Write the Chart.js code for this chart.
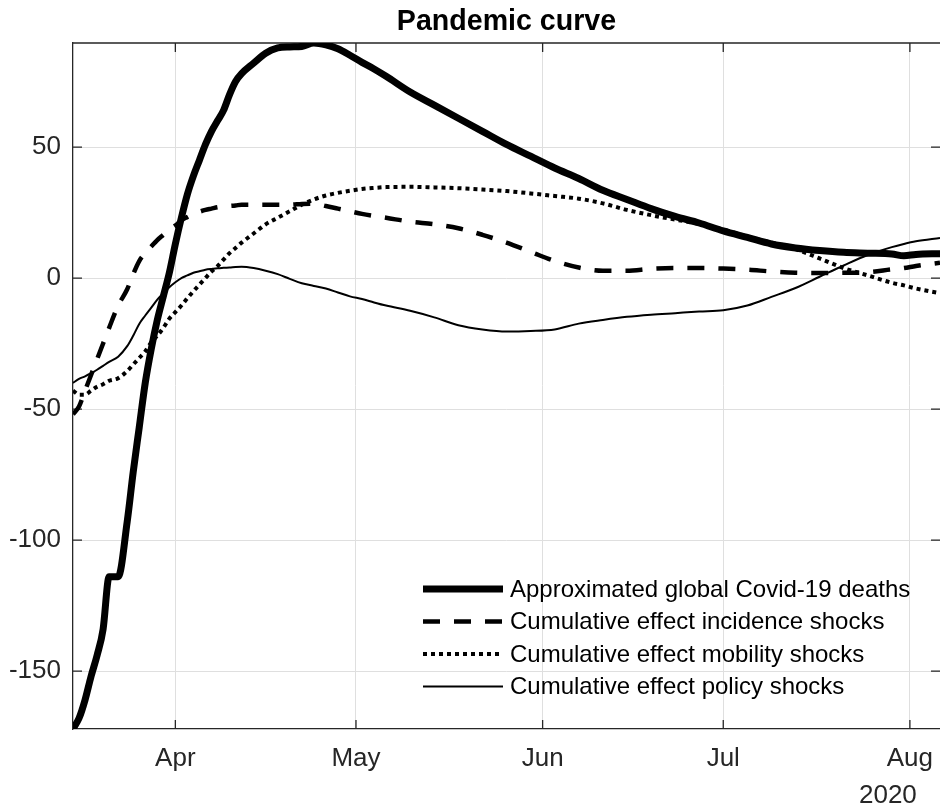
<!DOCTYPE html>
<html>
<head>
<meta charset="utf-8">
<title>Pandemic curve</title>
<script src="https://cdn.jsdelivr.net/npm/chart.js@4.4.0/dist/chart.umd.min.js"></script>
<style>
  html, body { margin: 0; padding: 0; background: #fff; }
  #wrap { width: 940px; height: 810px; position: relative; }
</style>
</head>
<body>
<div id="wrap"><canvas id="pandemicChart"></canvas></div>
<script>
// x = days since 15 March 2020
const days = [0, 1, 2, 3, 4, 5, 6, 7.5, 9, 10, 11, 12, 13, 14, 15, 16, 17, 18, 19, 20,
  21, 22, 23, 24, 25, 26, 27, 28, 30, 32, 34, 36, 38, 40, 42, 44, 46, 48, 50, 52,
  56, 60, 64, 68, 72, 76, 80, 84, 88, 92, 96, 100, 104, 108, 112, 116, 120, 124,
  128, 132, 136, 138, 140, 144];

const deaths = [-172, -168, -161, -152, -144, -134, -114, -114, -93, -74, -57, -40, -27, -16, -7, 2, 13, 23, 32, 39,
  45, 51, 56, 60, 64, 70, 75, 78, 82, 85.8, 87.8, 88.2, 88.4, 89.7, 89, 87.5, 85, 82.3, 79.8, 77,
  71, 66, 61, 56, 51, 46.5, 42, 38, 33.5, 30, 26.5, 23.5, 21, 18, 15.5, 13, 11.5, 10.5,
  9.8, 9.5, 9.2, 8.5, 9, 9.3];

const incidence = [-52, -49, -43, -37, -31, -25, -19, -10.5, -4.3, 1.5, 6.5, 9.5, 12, 14.5, 16.5, 18.5, 20, 22, 23.3, 24.5,
  25.3, 26, 26.5, 27, 27.3, 27.5, 27.7, 28, 28, 28, 28, 28, 28.3, 28.4, 27.5, 26.5, 25.5, 24.5, 23.7, 23,
  21.5, 20.5, 19, 16.5, 13.5, 10, 6.5, 4, 2.8, 2.8, 3.5, 3.8, 3.8, 3.6, 3.2, 2.5, 2, 1.9,
  2, 2.2, 3.3, 3.8, 4.6, 5.8];

const mobility = [-43, -44.5, -44.5, -43, -41.5, -40.5, -39.2, -38.2, -35.5, -33, -30.5, -28, -24.5, -22, -19, -15.5, -13, -10.5, -7.7, -5,
  -2.5, 0, 2.5, 4.5, 7, 9.5, 11.5, 13.5, 17, 20.5, 23, 25.5, 28, 30, 31.5, 32.5, 33.3, 34, 34.4, 34.7,
  34.8, 34.6, 34.3, 33.8, 33.2, 32.3, 31.3, 30.3, 28.5, 26, 24, 22.3, 20.7, 18.5, 15.8, 13.5, 11, 7.5,
  3.8, 1, -1.8, -2.8, -4, -5.8];

const policy = [-40, -38.5, -37.5, -36.3, -35, -33.5, -32, -30, -26, -22, -17.5, -14.3, -11.3, -8.2, -5.8, -3.5, -1.6, 0, 1, 2,
  2.6, 3.2, 3.5, 3.7, 3.9, 4, 4.2, 4.3, 3.8, 2.8, 1.5, -0.3, -2, -3, -4, -5.5, -7, -8, -9.3, -10.5,
  -12.5, -15, -18, -19.6, -20.4, -20.2, -19.6, -17.4, -16, -14.8, -14, -13.4, -12.8, -12.3, -10.5, -7.2, -3.8, 0.5,
  4.8, 8.8, 11.8, 13, 14, 15.3];

const seriesNames = [
  "Approximated global Covid-19 deaths",
  "Cumulative effect incidence shocks",
  "Cumulative effect mobility shocks",
  "Cumulative effect policy shocks",
];

// first day of each month, in days since 15 March
const monthTicks = [17, 47, 78, 108, 139];
const monthLabels = ["Apr", "May", "Jun", "Jul", "Aug"];
const yearLabel = "2020";
const yTicks = [-150, -100, -50, 0, 50];
const chartTitle = "Pandemic curve";

const FONT = '"Liberation Sans", Arial, Helvetica, sans-serif';
const AXIS_COLOR = "#262626";

function toPoints(values) {
  return days.map((d, i) => ({ x: d, y: values[i] }));
}

// tick marks inside the box, top border, title, legend and year label
const matlabLook = {
  id: "matlabLook",
  beforeDatasetsDraw(chart) {
    const ctx = chart.ctx;
    const a = chart.chartArea;
    const xs = chart.scales.x;
    const ys = chart.scales.y;
    const len = 9;
    ctx.save();
    ctx.strokeStyle = AXIS_COLOR;
    ctx.lineWidth = 1.3;
    ctx.beginPath();
    ctx.moveTo(a.left, a.top);
    ctx.lineTo(a.right, a.top);
    monthTicks.forEach((v) => {
      const px = xs.getPixelForValue(v);
      ctx.moveTo(px, a.bottom);
      ctx.lineTo(px, a.bottom - len);
      ctx.moveTo(px, a.top);
      ctx.lineTo(px, a.top + len);
    });
    yTicks.forEach((v) => {
      const py = ys.getPixelForValue(v);
      ctx.moveTo(a.left, py);
      ctx.lineTo(a.left + len, py);
      ctx.moveTo(a.right, py);
      ctx.lineTo(a.right - len, py);
    });
    ctx.stroke();
    ctx.restore();
  },
  afterDraw(chart) {
    const ctx = chart.ctx;
    const a = chart.chartArea;
    const xs = chart.scales.x;
    ctx.save();
    // title, centred over the axes
    ctx.font = "bold 28.6px " + FONT;
    ctx.fillStyle = "#000";
    ctx.textAlign = "center";
    ctx.textBaseline = "middle";
    ctx.fillText(chartTitle, (a.left + a.right) / 2, a.top - 21);
    // legend
    const x0 = a.left + 350;
    const x1 = a.left + 430;
    const rowTop = a.top + 546;
    const rowGap = 32.5;
    ctx.font = "24px " + FONT;
    ctx.textAlign = "left";
    chart.data.datasets.forEach((ds, i) => {
      const y = rowTop + i * rowGap;
      ctx.strokeStyle = ds.borderColor;
      ctx.lineWidth = ds.borderWidth;
      ctx.lineCap = "butt";
      ctx.setLineDash(ds.borderDash || []);
      ctx.beginPath();
      ctx.moveTo(x0, y);
      ctx.lineTo(x1, y);
      ctx.stroke();
      ctx.setLineDash([]);
      ctx.fillStyle = "#000";
      ctx.fillText(ds.label, x1 + 7, y + 1);
    });
    // year under the last month
    ctx.font = "26px " + FONT;
    ctx.fillStyle = AXIS_COLOR;
    ctx.textAlign = "center";
    ctx.fillText(yearLabel, xs.getPixelForValue(monthTicks[4]) - 22, a.bottom + 67);
    ctx.restore();
  },
};

const ctx = document.getElementById("pandemicChart").getContext("2d");
const pandemicChart = new Chart(ctx, {
  type: "line",
  data: {
    datasets: [
      {
        label: seriesNames[0],
        data: toPoints(deaths),
        borderColor: "#000",
        borderWidth: 7,
        borderJoinStyle: "round",
        borderCapStyle: "round",
        order: 4,
      },
      {
        label: seriesNames[1],
        data: toPoints(incidence),
        borderColor: "#000",
        borderWidth: 4.5,
        borderDash: [17, 14],
        order: 3,
      },
      {
        label: seriesNames[2],
        data: toPoints(mobility),
        borderColor: "#000",
        borderWidth: 4,
        borderDash: [4, 4],
        order: 2,
      },
      {
        label: seriesNames[3],
        data: toPoints(policy),
        borderColor: "#000",
        borderWidth: 2,
        order: 1,
      },
    ],
  },
  options: {
    responsive: true,
    maintainAspectRatio: false,
    animation: false,
    layout: { padding: { top: 43, right: 0, bottom: 0, left: 0 } },
    elements: {
      point: { radius: 0 },
      line: { cubicInterpolationMode: "monotone", fill: false },
    },
    plugins: {
      legend: { display: false },
      tooltip: { enabled: false },
      title: { display: false },
    },
    scales: {
      x: {
        type: "linear",
        min: 0,
        max: 144,
        afterBuildTicks: (axis) => {
          axis.ticks = monthTicks.map((v) => ({ value: v }));
        },
        afterFit: (scale) => {
          scale.height = 81;
          scale.paddingLeft = 0;
          scale.paddingRight = 0;
        },
        ticks: {
          autoSkip: false,
          maxRotation: 0,
          padding: 14,
          color: AXIS_COLOR,
          font: { family: FONT, size: 26 },
          callback: (value) => monthLabels[monthTicks.indexOf(value)],
        },
        grid: { color: "#dfdfdf", lineWidth: 1, drawTicks: false },
        border: { display: true, color: AXIS_COLOR, width: 1.3 },
      },
      y: {
        min: -172.1,
        max: 89.7,
        afterBuildTicks: (axis) => {
          axis.ticks = yTicks.map((v) => ({ value: v }));
        },
        afterFit: (scale) => {
          scale.width = 73;
          scale.paddingTop = 0;
          scale.paddingBottom = 0;
        },
        ticks: {
          padding: 12,
          color: AXIS_COLOR,
          font: { family: FONT, size: 26 },
        },
        grid: { color: "#dfdfdf", lineWidth: 1, drawTicks: false },
        border: { display: true, color: AXIS_COLOR, width: 1.3 },
      },
    },
  },
  plugins: [matlabLook],
});
</script>
</body>
</html>
